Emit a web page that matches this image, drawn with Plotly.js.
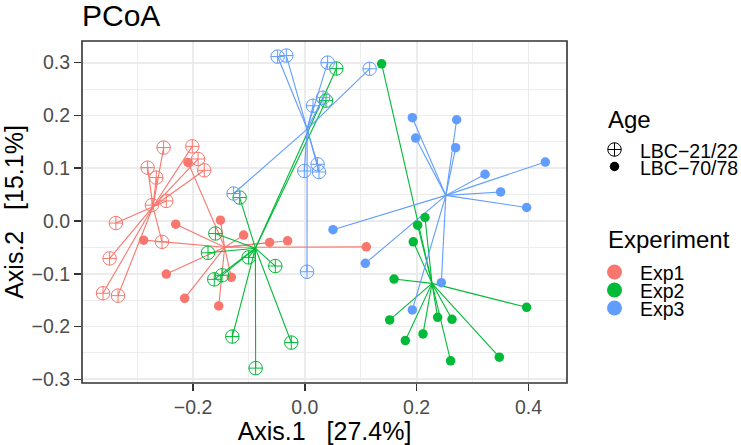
<!DOCTYPE html>
<html>
<head>
<meta charset="utf-8">
<script src="https://cdn.plot.ly/plotly-3.0.1.min.js"></script>
<style>html,body{margin:0;padding:0;background:#fff}#chart{width:741px;height:445px}</style>
</head>
<body>
<div id="chart"></div>
<script>
// ---- data ----
var experiments = ["Exp1", "Exp2", "Exp3"];
var ages = ["LBC\u221221/22", "LBC\u221270/78"];
var expColors = ["#F8766D", "#00BA38", "#619CFF"];

var exp1_young_x = [-0.2526, -0.2812, -0.2657, -0.2013, -0.191, -0.1798, -0.2478, -0.2735, -0.338, -0.3492, -0.361, -0.3342, -0.2555];
var exp1_young_y = [0.139, 0.101, 0.0822, 0.1414, 0.1174, 0.096, 0.038, 0.030, -0.004, -0.071, -0.137, -0.1415, -0.0395];
var exp1_old_x = [-0.209, -0.231, -0.151, -0.1095, -0.2884, -0.063, -0.0308, -0.2478, -0.215, -0.154, -0.1315, 0.110];
var exp1_old_y = [0.111, -0.006, 0.0015, -0.0268, -0.0363, -0.0407, -0.0376, -0.1006, -0.1466, -0.161, -0.1068, -0.049];

var exp2_young_x = [-0.1166, -0.160, -0.1732, -0.1005, -0.0528, -0.162, -0.148, -0.1297, -0.0242, -0.088, 0.0564, 0.0379];
var exp2_young_y = [0.0444, -0.0237, -0.0603, -0.069, -0.0854, -0.1106, -0.103, -0.219, -0.2304, -0.2788, 0.2888, 0.228];
var exp2_old_x = [0.1374, 0.215, 0.2018, 0.194, 0.1596, 0.3968, 0.1518, 0.2376, 0.2633, 0.2114, 0.1798, 0.348, 0.2608];
var exp2_old_y = [0.2977, 0.0066, -0.008, -0.0395, -0.110, -0.1636, -0.1875, -0.1825, -0.1863, -0.214, -0.2266, -0.258, -0.265];

var exp3_young_x = [-0.0486, -0.0331, -0.1274, -0.0009, 0.0408, 0.1159, 0.0147, 0.0326, 0.0229, 0.0254, 0.0039];
var exp3_young_y = [0.3115, 0.3134, 0.052, 0.0947, 0.300, 0.2883, 0.2183, 0.2335, 0.1074, 0.0928, -0.0962];
var exp3_old_x = [0.1923, 0.2716, 0.1982, 0.2698, 0.3224, 0.4302, 0.3503, 0.3968, 0.0504, 0.1082, 0.2442, 0.1923];
var exp3_old_y = [0.1957, 0.1918, 0.1571, 0.1389, 0.0885, 0.1117, 0.055, 0.0255, -0.0165, -0.0803, -0.117, -0.1686];

var xTickVals = [-0.2, 0.0, 0.2, 0.4];
var xTickText = ["\u22120.2", "0.0", "0.2", "0.4"];
var yTickVals = [-0.3, -0.2, -0.1, 0.0, 0.1, 0.2, 0.3];
var yTickText = ["\u22120.3", "\u22120.2", "\u22120.1", "0.0", "0.1", "0.2", "0.3"];

// ---- styling / layout constants ----
var FONT = "Liberation Sans, Arial, Helvetica, sans-serif";
var OPEN_SIZE = 13.5, FILLED_SIZE = 9.5;
// legend placement in pixels (legend overlay axis maps pixel -> pixel)
var LEG = {keyX: 614.5, textX: 638, titleX: 606,
  ageTitleY: 119, ageY0: 149.5, ageStep: 17,
  expTitleY: 239, expY0: 272, expStep: 18};

// ---- build traces ----
var groups = [
  {e: 0, a: 0, x: exp1_young_x, y: exp1_young_y},
  {e: 0, a: 1, x: exp1_old_x, y: exp1_old_y},
  {e: 1, a: 0, x: exp2_young_x, y: exp2_young_y},
  {e: 1, a: 1, x: exp2_old_x, y: exp2_old_y},
  {e: 2, a: 0, x: exp3_young_x, y: exp3_young_y},
  {e: 2, a: 1, x: exp3_old_x, y: exp3_old_y}
];
function mean(a){ var s = 0; for (var i = 0; i < a.length; i++) s += a[i]; return s / a.length; }
function ageMarker(a, color){
  return a === 0 ? {symbol: "circle-cross-open", size: OPEN_SIZE, color: color, line: {width: 1, color: color}}
                 : {symbol: "circle", size: FILLED_SIZE, color: color};
}

var traces = [];
// spider segments: centroid (group mean) to each sample
groups.forEach(function(g){
  var cx = mean(g.x), cy = mean(g.y);
  var lx = [], ly = [];
  for (var i = 0; i < g.x.length; i++) { lx.push(cx, g.x[i], null); ly.push(cy, g.y[i], null); }
  traces.push({type: "scatter", mode: "lines", x: lx, y: ly, showlegend: false, hoverinfo: "skip",
    line: {color: expColors[g.e], width: 1.1}});
});
// sample points
groups.forEach(function(g){
  traces.push({type: "scatter", mode: "markers", x: g.x, y: g.y, showlegend: false,
    marker: ageMarker(g.a, expColors[g.e])});
});

// legend keys drawn on an overlay axis in the right margin
var annotations = [];
annotations.push({xref: "x2", yref: "y2", x: LEG.titleX, y: LEG.ageTitleY, xanchor: "left", yanchor: "middle",
  text: "Age", showarrow: false, font: {family: FONT, size: 24, color: "#000"}});
annotations.push({xref: "x2", yref: "y2", x: LEG.titleX, y: LEG.expTitleY, xanchor: "left", yanchor: "middle",
  text: "Experiment", showarrow: false, font: {family: FONT, size: 24, color: "#000"}});
ages.forEach(function(name, i){
  var yy = LEG.ageY0 + i * LEG.ageStep;
  traces.push({type: "scatter", mode: "markers", xaxis: "x2", yaxis: "y2", x: [LEG.keyX], y: [yy],
    showlegend: false, hoverinfo: "skip", marker: ageMarker(i, "#000")});
  annotations.push({xref: "x2", yref: "y2", x: LEG.textX, y: yy + 1, xanchor: "left", yanchor: "middle",
    text: name, showarrow: false, font: {family: FONT, size: 19.5, color: "#000"}});
});
experiments.forEach(function(name, i){
  var yy = LEG.expY0 + i * LEG.expStep;
  traces.push({type: "scatter", mode: "markers", xaxis: "x2", yaxis: "y2", x: [LEG.keyX], y: [yy],
    showlegend: false, hoverinfo: "skip", marker: {symbol: "circle", size: 15, color: expColors[i]}});
  annotations.push({xref: "x2", yref: "y2", x: LEG.textX, y: yy + 1, xanchor: "left", yanchor: "middle",
    text: name, showarrow: false, font: {family: FONT, size: 19.5, color: "#000"}});
});

var W = 741, H = 445, ML = 82, MR = 0, MT = 41, MB = 62, PANEL_W = 485;
var paperW = W - ML - MR;
var mainFrac = PANEL_W / paperW;
var legFrac0 = 0.75;

var axisCommon = {
  showline: false, zeroline: false, mirror: false, automargin: false,
  showgrid: true, gridcolor: "#EBEBEB", gridwidth: 1.8,
  ticks: "outside", ticklen: 7, tickwidth: 1.5, tickcolor: "#333333",
  tickfont: {family: FONT, size: 19.5, color: "#4D4D4D"},
  fixedrange: true
};
var hiddenAxis = {visible: false, showgrid: false, zeroline: false, showticklabels: false, fixedrange: true};
var layout = {
  width: W, height: H,
  margin: {l: ML, r: MR, t: MT, b: MB},
  paper_bgcolor: "#FFFFFF", plot_bgcolor: "rgba(0,0,0,0)",
  font: {family: FONT, color: "#000"},
  showlegend: false,
  title: {text: "PCoA", font: {family: FONT, size: 30, color: "#000"},
    x: 0, xref: "paper", xanchor: "left", y: 1 - 15 / H, yref: "container", yanchor: "middle"},
  xaxis: Object.assign({}, axisCommon, {
    domain: [0, mainFrac], anchor: "y",
    range: [-0.3986, 0.469], tickvals: xTickVals, ticktext: xTickText,
    minor: {dtick: 0.1, tick0: 0, showgrid: true, gridcolor: "#EBEBEB", gridwidth: 0.9, ticks: ""},
    title: {text: "Axis.1\u00a0\u00a0\u00a0[27.4%]", font: {family: FONT, size: 25, color: "#000"}, standoff: 3}
  }),
  yaxis: Object.assign({}, axisCommon, {
    domain: [0, 1], anchor: "x",
    range: [-0.307, 0.341], tickvals: yTickVals, ticktext: yTickText,
    minor: {dtick: 0.05, tick0: 0, showgrid: true, gridcolor: "#EBEBEB", gridwidth: 0.9, ticks: ""},
    title: {text: "Axis.2\u00a0\u00a0\u00a0[15.1%]", font: {family: FONT, size: 25, color: "#000"}, standoff: 2}
  }),
  xaxis2: Object.assign({}, hiddenAxis, {domain: [legFrac0, 1], anchor: "y2",
    range: [ML + legFrac0 * paperW, W]}),
  yaxis2: Object.assign({}, hiddenAxis, {domain: [0, 1], anchor: "x2", range: [H - MB, MT]}),
  shapes: [{type: "rect", xref: "x domain", yref: "y domain", x0: 0, x1: 1, y0: 0, y1: 1,
    line: {color: "#333333", width: 1.6}, fillcolor: "rgba(0,0,0,0)", layer: "above"}],
  annotations: annotations
};
Plotly.newPlot("chart", traces, layout, {displayModeBar: false, staticPlot: true});
</script>
</body>
</html>
